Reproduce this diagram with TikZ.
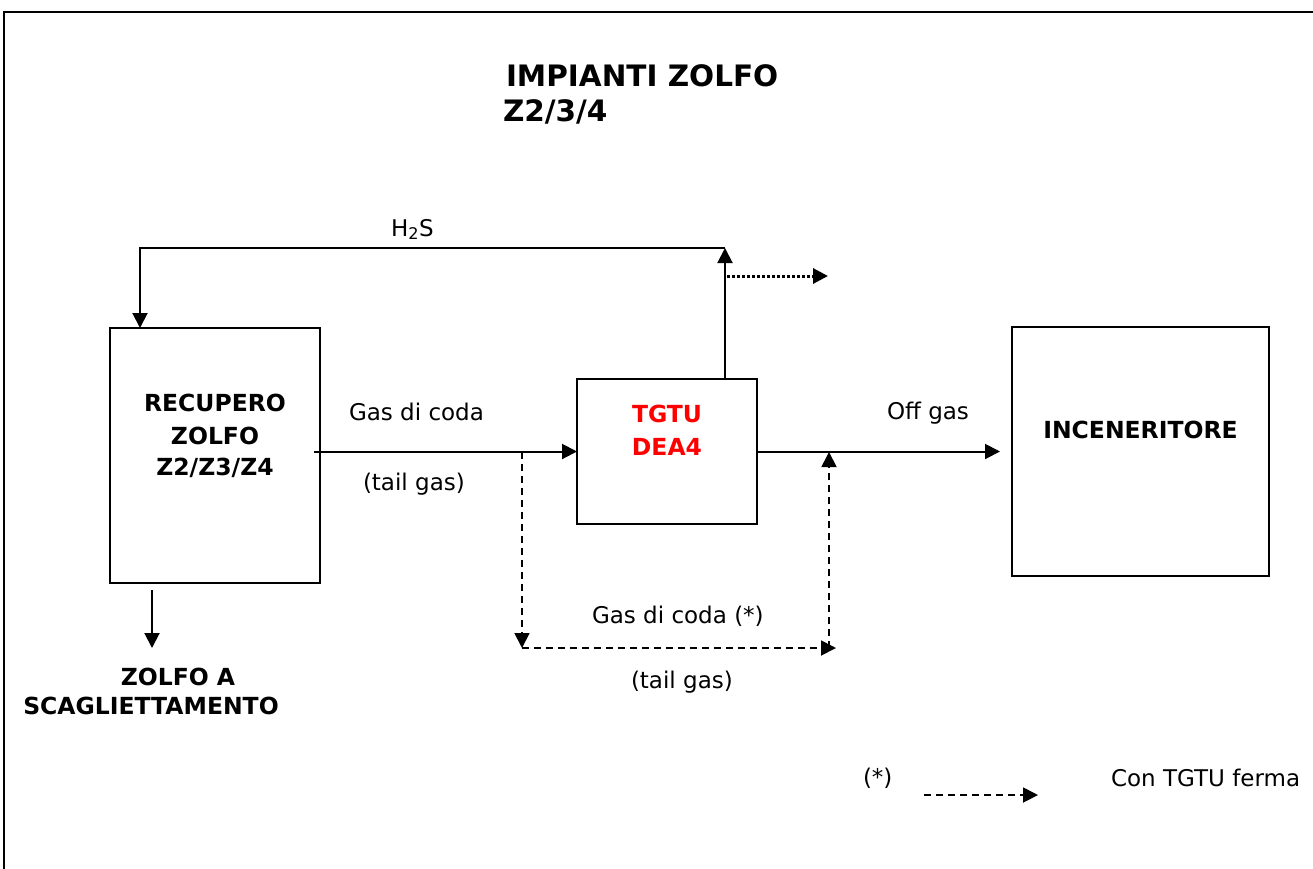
\documentclass[tikz,border=0pt]{standalone}
\usepackage{fontspec}
\setmainfont{DejaVu Sans}
\usetikzlibrary{arrows.meta}
\begin{document}
\begin{tikzpicture}[x=1pt,y=-1pt,line width=2pt,
  box/.style={draw,line width=2pt,inner sep=0pt,outer sep=0pt},
  arr/.style={-{Triangle[length=15pt,width=15pt]}},
  dsh/.style={dash pattern=on 7pt off 5pt,line width=1.8pt},
  dots/.style={dash pattern=on 3pt off 2pt,line width=3pt},
  rtxt/.style={inner sep=0pt,anchor=base,font=\fontsize{23}{27}\selectfont},
  btxt/.style={inner sep=0pt,anchor=base,font=\fontsize{23.5}{28}\selectfont\bfseries},
  ttxt/.style={inner sep=0pt,anchor=base west,font=\fontsize{29.5}{34}\selectfont\bfseries}]
\useasboundingbox (0,0) rectangle (1313,868);
% frame
\draw[line width=2pt] (4,880) -- (4,12) -- (1325,12);
% title
\node[ttxt] (t1) at (505,86) {IMPIANTI ZOLFO};
\node[ttxt] (t2) at (502,121) {Z2/3/4};
% boxes
\node[box,minimum width=210pt,minimum height=255pt] (rec) at (215,455.5) {};
\node[box,minimum width=180pt,minimum height=145pt] (tgtu) at (667,451.5) {};
\node[box,minimum width=257pt,minimum height=249pt] (inc) at (1140.5,451.5) {};
% box texts
\node[btxt] (r1) at (215,411) {RECUPERO};
\node[btxt] (r2) at (215,444) {ZOLFO};
\node[btxt] (r3) at (215,475) {Z2/Z3/Z4};
\node[btxt,text=red] (g1) at (667,422) {TGTU};
\node[btxt,text=red] (g2) at (667,455) {DEA4};
\node[btxt] (i1) at (1140.5,438) {INCENERITORE};
% labels
\node[rtxt,anchor=base west] (h2s) at (390,236) {H\textsubscript{2}S};
\node[rtxt,anchor=base west] (gc) at (348,420) {Gas di coda};
\node[rtxt,anchor=base west] (tg) at (362,490) {(tail gas)};
\node[rtxt,anchor=base west] (og) at (886,419) {Off gas};
\node[rtxt,anchor=base west] (gc2) at (591,623) {Gas di coda (*)};
\node[rtxt,anchor=base west] (tg2) at (630,688) {(tail gas)};
\node[btxt] (za) at (178,685) {ZOLFO A};
\node[btxt] (zs) at (151,714) {SCAGLIETTAMENTO};
\node[rtxt,anchor=base west] (ast) at (862,785) {(*)};
\node[rtxt,anchor=base west] (con) at (1110,786) {Con TGTU ferma};
% coordinates
\coordinate (hR) at (725,248);
\coordinate (hL) at (140,248);
\coordinate (dotS) at (727,276);
\coordinate (dotE) at (828,276);
\coordinate (dA) at (522,452);
\coordinate (dB) at (522,648);
\coordinate (dE) at (836,648);
\coordinate (dC) at (829,648);
\coordinate (dD) at (829,452);
\coordinate (zTop) at (152,590);
\coordinate (zBot) at (152,648);
\coordinate (lgS) at (924,795);
\coordinate (lgE) at (1038,795);
% connectors
\draw[arr] ([xshift=-6pt]rec.east |- tgtu.west) -- (tgtu.west);
\draw[arr] (tgtu.east) -- ([xshift=-12pt]inc.west);
\draw[arr] (tgtu.north -| hR) -- (hR);
\draw[arr] (hR) -- (hL) -- (rec.north -| hL);
\draw[arr,dots] (dotS) -- (dotE);
\draw[arr,dsh] (dA) -- (dB);
\draw[arr,dsh] (dB) -- (dE);
\draw[arr,dsh] (dC) -- (dD);
\draw[arr] (zTop) -- (zBot);
\draw[arr,dsh] (lgS) -- (lgE);
\end{tikzpicture}
\end{document}
